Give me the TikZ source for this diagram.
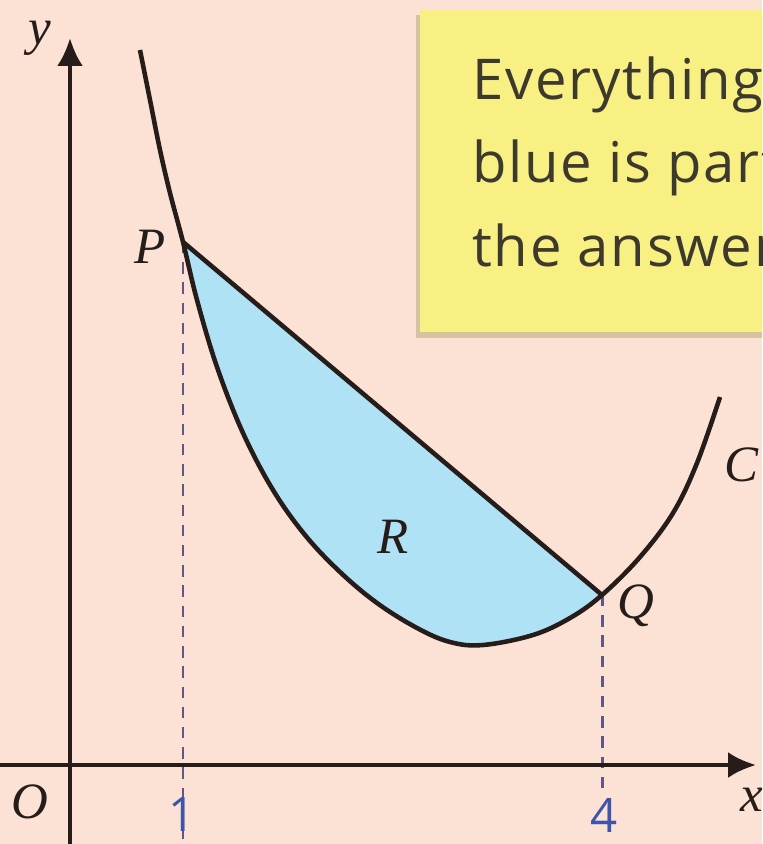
\documentclass[tikz,border=0pt]{standalone}
\usepackage{fontspec}
\setmainfont{Liberation Serif}
\newfontfamily\notefont{Open Sans}
\usetikzlibrary{arrows.meta}
\definecolor{pagebg}{RGB}{251,226,212}
\definecolor{notefill}{RGB}{249,240,132}
\definecolor{noteshadow}{RGB}{214,196,160}
\definecolor{regionblue}{RGB}{176,226,246}
\definecolor{tickblue}{RGB}{62,84,170}
\definecolor{guidecol}{RGB}{96,86,136}
\definecolor{inkdark}{RGB}{38,28,26}

\begin{document}
\begin{tikzpicture}[
  x=0.02cm, y=-0.02cm,
  axis/.style={line width=2.4pt, draw=inkdark, -{Latex[length=0.56cm,width=0.52cm]}},
  curveline/.style={line width=2.6pt, draw=inkdark, line join=round},
  guide/.style={draw=guidecol, line width=1.7pt, dash pattern=on 6.5pt off 5pt},
  mathlabel/.style={font=\fontsize{29}{34}\selectfont\itshape, text=inkdark, inner sep=0pt},
  ticklabel/.style={font=\notefont\fontsize{27}{32}\selectfont, text=tickblue, inner sep=0pt},
  notetext/.style={font=\notefont\fontsize{32}{38}\selectfont\addfontfeatures{LetterSpace=3}, text=black!75!olive, inner sep=0pt, anchor=base west}
]
\clip (0,0) rectangle (762,844);
\fill[pagebg] (0,0) rectangle (762,844);

% sticky note
\fill[noteshadow] (416,15) rectangle (800,338);
\fill[notefill] (420,10) rectangle (800,332);
\node[notetext] (note1) at (472,100) {Everything};
\node[notetext] (note2) at (472,183) {blue is part};
\node[notetext] (note3) at (472,267) {the answer};

% shaded region R
\coordinate (P) at (183,242);
\coordinate (Q) at (602,595);
\fill[regionblue] plot[smooth, tension=0.6] coordinates {
  (183,242) (197,300) (217,367) (243,433) (273,490) (305,535) (340,572)
  (377,603) (417,628) (450,642) (483,645) (533,635) (570,618) (602,595)} -- cycle;

% guide lines
\draw[guide] (P) -- (183,844);
\draw[guide] (Q) -- (602,790);

% axes
\draw[axis] (0,765) -- (756,765);
\draw[axis] (70,844) -- (70,38);

% curve C and chord PQ
\draw[curveline] plot[smooth, tension=0.6] coordinates {
  (140,50) (150,100) (160,150) (170,193) (183,242) (197,300) (217,367)
  (243,433) (273,490) (305,535) (340,572) (377,603) (417,628) (450,642)
  (483,645) (533,635) (570,618) (602,595) (640,557) (673,513) (697,463) (720,397)};
\draw[curveline] (P) -- (Q);

% labels
\node[mathlabel] (ylab) at (40,38) {y};
\node[mathlabel] (xlab) at (752,800) {x};
\node[mathlabel] (origin) at (30,802) {O};
\node[mathlabel] (lblP) at (150,247) {P};
\node[mathlabel] (lblQ) at (636,606) {Q};
\node[mathlabel] (lblC) at (741,465) {C};
\node[mathlabel] (lblR) at (393,537) {R};
\node[ticklabel] (tick1) at (182,815) {1};
\node[ticklabel] (tick4) at (604,815) {4};
\end{tikzpicture}
\end{document}
